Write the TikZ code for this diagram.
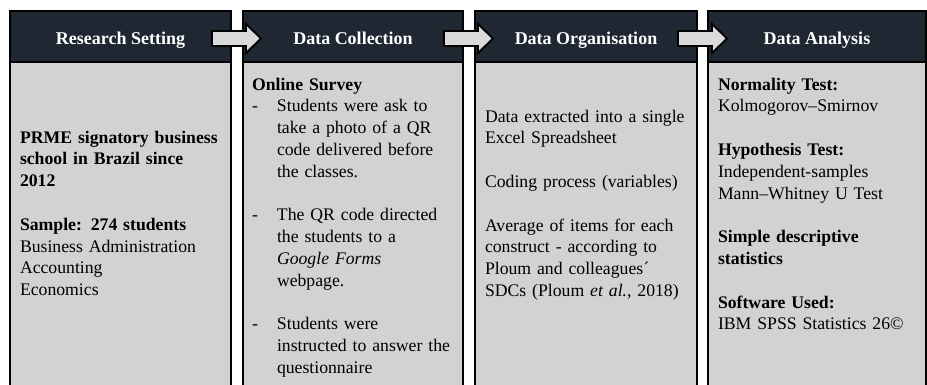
\documentclass[tikz,border=0pt]{standalone}
\usepackage{fontspec}
\setmainfont{Liberation Serif}
\usetikzlibrary{calc}
\definecolor{hdr}{RGB}{31,39,51}
\definecolor{bodyg}{RGB}{211,209,212}
\definecolor{arrg}{RGB}{218,218,218}
\tikzset{
  headbox/.style={draw=black, line width=1.8pt, fill=hdr, inner sep=0pt, outer sep=0pt,
    minimum height=51pt, anchor=north west, text=white, text height=17pt, text depth=2pt,
    font=\fontsize{18}{21}\selectfont\bfseries},
  bodybox/.style={draw=black, line width=1.8pt, fill=bodyg, inner sep=0pt, outer sep=0pt,
    minimum height=345pt, anchor=north west},
  boxtext/.style={anchor=base west, inner sep=0pt, outer sep=0pt, text width=212pt, align=left,
    font=\fontsize{17.7}{21.8}\selectfont},
  blockarrow/.style={draw=black, line width=1.8pt, fill=arrg, line join=miter}
}
\newcommand{\myarrow}[1]{%
  \draw[blockarrow] ($(#1.east)+(-19,-5.5)$) -- ($(#1.east)+(15,-5.5)$) -- ($(#1.east)+(15,-12.5)$)
    -- ($(#1.east)+(30,2)$) -- ($(#1.east)+(15,16.5)$) -- ($(#1.east)+(15,9.5)$)
    -- ($(#1.east)+(-19,9.5)$) -- cycle;}
\newcommand{\dashitem}{\makebox[25pt][l]{-}}
\newcommand{\contline}{\hspace*{25pt}}
\begin{document}
\begin{tikzpicture}[x=1pt,y=-1pt]
\useasboundingbox (0,0) rectangle (927,384);
\begin{scope}
\clip (0,0) rectangle (927,384);
% bodies
\node[bodybox, minimum width=221pt] (b1) at (10,62) {};
\node[bodybox, minimum width=220pt] (b2) at (243,62) {};
\node[bodybox, minimum width=222pt] (b3) at (475,62) {};
\node[bodybox, minimum width=218pt] (b4) at (708,62) {};
% headers
\node[headbox, minimum width=221pt] (h1) at (10,11) {Research Setting};
\node[headbox, minimum width=220pt] (h2) at (243,11) {Data Collection};
\node[headbox, minimum width=222pt] (h3) at (475,11) {Data Organisation};
\node[headbox, minimum width=218pt] (h4) at (708,11) {Data Analysis};
\end{scope}
% arrows
\myarrow{h1}
\myarrow{h2}
\myarrow{h3}
% texts
\node[boxtext] (t1) at (20,143) {\textbf{PRME signatory business}\\
\textbf{school in Brazil since}\\
\textbf{2012}\\[21.8pt]
\textbf{Sample: 274 students}\\
Business Administration\\
Accounting\\
Economics};
\node[boxtext] (t2) at (252,90) {\textbf{Online Survey}\\
\dashitem Students were ask to\\
\contline take a photo of a QR\\
\contline code delivered before\\
\contline the classes.\\[21.8pt]
\dashitem The QR code directed\\
\contline the students to a\\
\contline \textit{Google Forms}\\
\contline webpage.\\[21.8pt]
\dashitem Students were\\
\contline instructed to answer the\\
\contline questionnaire};
\node[boxtext] (t3) at (485,122) {Data extracted into a single\\
Excel Spreadsheet\\[21.8pt]
Coding process (variables)\\[21.8pt]
Average of items for each\\
construct - according to\\
Ploum and colleagues´\\
SDCs (Ploum \textit{et al.}, 2018)};
\node[boxtext] (t4) at (718,90) {\textbf{Normality Test:}\\
Kolmogorov–Smirnov\\[21.8pt]
\textbf{Hypothesis Test:}\\
Independent-samples\\
Mann–Whitney U Test\\[21.8pt]
\textbf{Simple descriptive}\\
\textbf{statistics}\\[21.8pt]
\textbf{Software Used:}\\
IBM SPSS Statistics 26©};
\end{tikzpicture}
\end{document}
